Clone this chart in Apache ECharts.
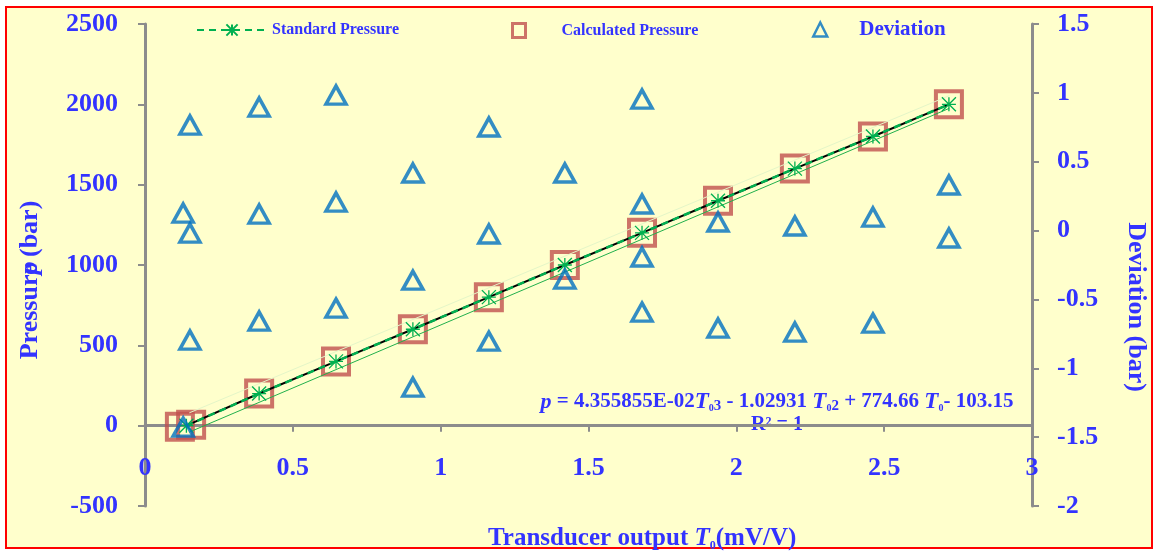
<!DOCTYPE html>
<html>
<head>
<meta charset="utf-8">
<script src="https://cdn.jsdelivr.net/npm/echarts@6/dist/echarts.min.js"></script>
<style>
  html, body { margin: 0; padding: 0; background: #ffffff; }
  #chart { width: 1159px; height: 552px; }
</style>
</head>
<body>
<div id="chart"></div>
<script>
// Applied (standard) pressure steps and the transducer output read at each
const standardT0 = [0.140, 0.386, 0.646, 0.906, 1.163, 1.420, 1.681, 1.938, 2.198, 2.462, 2.719];
const standardPressure = [0, 200, 400, 600, 800, 1000, 1200, 1400, 1600, 1800, 2000];

// Pressure computed back from the calibration polynomial
const calculatedT0 = [0.118, 0.156, 0.386, 0.646, 0.906, 1.163, 1.420, 1.681, 1.938, 2.198, 2.462, 2.719];
const calculatedPressure = [-6, 6, 200, 400, 600, 800, 1000, 1200, 1400, 1600, 1800, 2000];

// Deviation between calculated and standard pressure, all loading runs
const deviationT0 = [
  0.129, 0.129, 0.152, 0.152, 0.152,
  0.386, 0.386, 0.386,
  0.646, 0.646, 0.646,
  0.906, 0.906, 0.906,
  1.163, 1.163, 1.163,
  1.420, 1.420,
  1.681, 1.681, 1.681, 1.681,
  1.938, 1.938,
  2.198, 2.198,
  2.462, 2.462,
  2.719, 2.719
];
const deviationBar = [
  0.127, -1.427, 0.766, -0.018, -0.795,
  0.897, 0.120, -0.657,
  0.984, 0.207, -0.563,
  0.418, -0.360, -1.137,
  0.752, -0.025, -0.803,
  0.418, -0.352,
  0.955, 0.193, -0.192, -0.592,
  0.062, -0.708,
  0.033, -0.737,
  0.098, -0.672,
  0.331, -0.054
];

// Straight-line fits of individual runs (end points)
const linearFitT0 = [0.15, 2.72];
const linearFitPressure = [-40, 1975];
const upperFitT0 = [0.15, 2.72];
const upperFitPressure = [80, 2054];

// Axis ticks
const xTicks = { min: 0, max: 3, step: 0.5 };
const pressureTicks = { min: -500, max: 2500, step: 500 };
const deviationTicks = { min: -2, max: 1.5, step: 0.5 };

const SERIF = '"Liberation Serif", "Times New Roman", serif';
const BLUE = '#3333FF';
const AXIS_GREY = '#8c8c8c';

const zip = (xs, ys) => xs.map((x, i) => [x, ys[i]]);
const starMarker = 'path://M0,0L10,10M10,0L0,10M5,0L5,10M0,5L10,5';

const chart = echarts.init(document.getElementById('chart'), null, { renderer: 'canvas' });

const labelStyle = { color: BLUE, fontFamily: SERIF, fontWeight: 'bold', fontSize: 26 };
const legendText = { color: BLUE, fontFamily: SERIF, fontWeight: 'bold', fontSize: 16 };

const option = {
  backgroundColor: '#ffffff',
  animation: false,
  grid: { left: 145, right: 127, top: 24, bottom: 46, containLabel: false, outerBoundsMode: 'none' },
  legend: [
    {
      data: ['Standard Pressure'], left: 196, top: 22, padding: 0, itemWidth: 70, itemHeight: 14,
      textStyle: Object.assign({}, legendText)
    },
    {
      data: ['Calculated Pressure'], left: 511, top: 22, padding: 0, itemWidth: 13, itemHeight: 14,
      itemStyle: { borderWidth: 3 },
      textStyle: Object.assign({ padding: [0, 0, 0, 31] }, legendText)
    },
    {
      data: ['Deviation'], left: 812, top: 19, padding: 0, itemWidth: 14, itemHeight: 14,
      itemStyle: { borderWidth: 2.5 },
      textStyle: Object.assign({}, legendText, { fontSize: 21, padding: [0, 0, 0, 27] })
    }
  ],
  xAxis: {
    type: 'value',
    min: xTicks.min, max: xTicks.max, interval: xTicks.step,
    axisLine: { show: true, onZero: true, onZeroAxisIndex: 0, lineStyle: { color: AXIS_GREY, width: 3 } },
    axisTick: { show: true, inside: false, length: 6, lineStyle: { color: AXIS_GREY, width: 2 } },
    axisLabel: Object.assign({ margin: -51, formatter: v => String(v) }, labelStyle),
    splitLine: { show: false }
  },
  yAxis: [
    {
      type: 'value', position: 'left',
      min: pressureTicks.min, max: pressureTicks.max, interval: pressureTicks.step,
      axisLine: { show: true, onZero: false, lineStyle: { color: AXIS_GREY, width: 3 } },
      axisTick: { show: true, inside: false, length: 7, lineStyle: { color: AXIS_GREY, width: 2 } },
      axisLabel: Object.assign({ margin: 27, formatter: v => String(v) }, labelStyle),
      splitLine: { show: false }
    },
    {
      type: 'value', position: 'right',
      min: deviationTicks.min, max: deviationTicks.max, interval: deviationTicks.step,
      axisLine: { show: true, onZero: false, lineStyle: { color: AXIS_GREY, width: 3 } },
      axisTick: { show: true, inside: false, length: 7, lineStyle: { color: AXIS_GREY, width: 2 } },
      axisLabel: Object.assign({ margin: 25, formatter: v => String(v) }, labelStyle),
      splitLine: { show: false }
    }
  ],
  series: [
    {
      name: 'Calculated Pressure', type: 'scatter',
      data: zip(calculatedT0, calculatedPressure),
      symbol: 'rect', symbolSize: 26,
      itemStyle: { color: 'rgba(255,255,255,0)', borderColor: '#C0504D', borderWidth: 4 },
      z: 2
    },
    {
      name: 'linear fit', type: 'line', data: zip(linearFitT0, linearFitPressure),
      symbol: 'none', silent: true,
      lineStyle: { color: '#22B04C', width: 1 }, z: 3
    },
    {
      name: 'upper fit', type: 'line', data: zip(upperFitT0, upperFitPressure),
      symbol: 'none', silent: true,
      lineStyle: { color: '#E4F6C8', width: 1 }, z: 3
    },
    {
      name: 'polynomial fit', type: 'line', data: zip(standardT0, standardPressure),
      symbol: 'none', silent: true,
      lineStyle: { color: '#000000', width: 2 }, z: 4
    },
    {
      name: 'Standard Pressure', type: 'line',
      data: zip(standardT0, standardPressure),
      symbol: starMarker, symbolSize: 14, showSymbol: true,
      lineStyle: { color: '#00B050', width: 2.5, type: [7, 5] },
      itemStyle: { color: '#00B050', borderColor: '#00B050', borderWidth: 1.3 },
      z: 5
    },
    {
      name: 'Deviation', type: 'scatter', yAxisIndex: 1,
      data: zip(deviationT0, deviationBar),
      symbol: 'triangle', symbolSize: [20, 18],
      itemStyle: { color: 'rgba(255,255,255,0)', borderColor: '#0070C0', borderWidth: 3.5 },
      z: 6
    }
  ],
  graphic: [
    {
      type: 'rect', z: -100, silent: true,
      shape: { x: 6, y: 7, width: 1146, height: 541 },
      style: { fill: '#FFFFCC', stroke: '#FF0000', lineWidth: 2 }
    },
    {
      type: 'text', x: 30, y: 280, rotation: Math.PI / 2, silent: true,
      style: { text: 'Pressure (bar)', font: 'bold 26px ' + SERIF, fill: BLUE, align: 'center', verticalAlign: 'middle' }
    },
    {
      type: 'text', x: 30, y: 268, rotation: Math.PI / 2, silent: true,
      style: { text: 'p', font: 'italic bold 26px ' + SERIF, fill: BLUE, align: 'center', verticalAlign: 'middle' }
    },
    {
      type: 'text', x: 1136, y: 307, rotation: -Math.PI / 2, silent: true,
      style: { text: 'Deviation (bar)', font: 'bold 26px ' + SERIF, fill: BLUE, align: 'center', verticalAlign: 'middle' }
    },
    {
      type: 'text', x: 488, y: 539, silent: true,
      style: {
        text: 'Transducer output {t|T}{s|0}(mV/V)',
        font: 'bold 25px ' + SERIF, fill: BLUE, align: 'left', verticalAlign: 'middle',
        rich: {
          t: { fontFamily: SERIF, fontWeight: 'bold', fontStyle: 'italic', fontSize: 25, fill: BLUE },
          s: { fontFamily: SERIF, fontWeight: 'bold', fontSize: 12, fill: BLUE, verticalAlign: 'bottom' }
        }
      }
    },
    {
      type: 'text', x: 777, y: 402, silent: true,
      style: {
        text: '{i|p} = 4.355855E-02{t|T}{s|0}{n|3} - 1.02931 {t|T}{s|0}{n|2} + 774.66 {t|T}{s|0}- 103.15',
        font: 'bold 21px ' + SERIF, fill: BLUE, align: 'center', verticalAlign: 'middle',
        rich: {
          i: { fontFamily: SERIF, fontWeight: 'bold', fontStyle: 'italic', fontSize: 22, fill: BLUE },
          t: { fontFamily: SERIF, fontWeight: 'bold', fontStyle: 'italic', fontSize: 23, fill: BLUE },
          s: { fontFamily: SERIF, fontWeight: 'bold', fontSize: 10, fill: BLUE, verticalAlign: 'bottom' },
          n: { fontFamily: SERIF, fontWeight: 'bold', fontSize: 15, fill: BLUE, verticalAlign: 'bottom' }
        }
      }
    },
    {
      type: 'text', x: 777, y: 425, silent: true,
      style: { text: 'R\u00B2 = 1', font: 'bold 20px ' + SERIF, fill: BLUE, align: 'center', verticalAlign: 'middle' }
    }
  ]
};

chart.setOption(option);
</script>
</body>
</html>
